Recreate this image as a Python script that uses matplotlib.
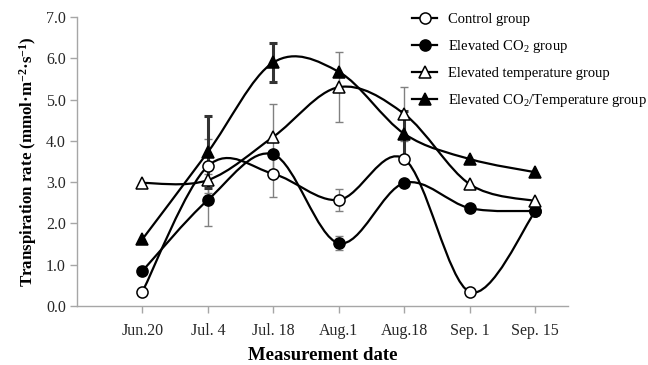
import matplotlib
matplotlib.use("Agg")
import matplotlib.pyplot as plt
from matplotlib.path import Path
from matplotlib.patches import PathPatch
from matplotlib.lines import Line2D
import numpy as np

dates = ["Jun.20", "Jul. 4", "Jul. 18", "Aug.1", "Aug.18", "Sep. 1", "Sep. 15"]

control = [0.35, 3.39, 3.20, 2.57, 3.56, 0.34, 2.29]
control_err = [0, 0.65, 0.56, 0.27, 0, 0, 0]

co2 = [0.85, 2.57, 3.67, 1.52, 2.98, 2.37, 2.30]
co2_err = [0, 0.63, 0, 0.17, 0, 0, 0]

temp = [2.98, 3.05, 4.10, 5.30, 4.65, 2.95, 2.54]
temp_err = [0, 0, 0.80, 0.85, 0.65, 0, 0]

co2_temp = [1.62, 3.73, 5.90, 5.67, 4.17, 3.56, 3.24]
co2_temp_err = [0, 0.87, 0.47, 0, 0.55, 0, 0]

plt.rcParams['font.family'] = ['Liberation Serif', 'DejaVu Serif']
plt.rcParams['mathtext.fontset'] = 'custom'
plt.rcParams['mathtext.rm'] = 'Liberation Serif'
plt.rcParams['mathtext.bf'] = 'Liberation Serif:bold'

fig = plt.figure(figsize=(6.48, 3.65), dpi=100)
ax = fig.add_axes([77 / 648, 59 / 365, 491 / 648, 289 / 365])


def smooth_path(xs, ys):
    # excel-style smoothed line: bezier segments with catmull-rom handles
    pts = np.column_stack([xs, ys]).astype(float)
    n = len(pts)
    verts = [pts[0]]
    codes = [Path.MOVETO]
    for i in range(n - 1):
        p0 = pts[max(i - 1, 0)]
        p1 = pts[i]
        p2 = pts[i + 1]
        p3 = pts[min(i + 2, n - 1)]
        verts += [p1 + (p2 - p0) / 6, p2 - (p3 - p1) / 6, p2]
        codes += [Path.CURVE4] * 3
    return Path(verts, codes)


x = np.arange(len(dates))
series = [
    ("Control group", control, control_err, 'o', 'white', 8, '#808080', 1.0),
    ("Elevated CO$_2$ group", co2, co2_err, 'o', 'black', 8, '#808080', 1.0),
    ("Elevated temperature group", temp, temp_err, '^', 'white', 8.5, '#808080', 1.0),
    ("Elevated CO$_2$/Temperature group", co2_temp, co2_temp_err, '^', 'black', 8.5, '#333333', 2.2),
]

handles = []
for label, vals, err, mk, fc, ms, ecol, elw in series:
    e = np.array(err)
    keep = e > 0
    ax.errorbar(x[keep], np.array(vals)[keep], yerr=e[keep], fmt='none',
                ecolor=ecol, elinewidth=elw, capsize=3, capthick=elw, zorder=1.5)
    ax.add_patch(PathPatch(smooth_path(x, vals), fill=False, edgecolor='black',
                           lw=1.6, zorder=2))
    ax.plot(x, vals, linestyle='none', marker=mk, markersize=ms,
            markerfacecolor=fc, markeredgecolor='black', markeredgewidth=1.1, zorder=3)
    handles.append(Line2D([], [], color='black', lw=1.6, marker=mk, markersize=ms,
                          markerfacecolor=fc, markeredgecolor='black',
                          markeredgewidth=1.1, label=label))

ax.set_xlim(-1.0, 6.5)
ax.set_ylim(0, 7)
ax.set_xticks(x)
ax.set_xticklabels(dates)
ax.set_yticks(np.arange(0, 7.1, 1.0))
ax.set_yticklabels([f"{v:.1f}" for v in np.arange(0, 7.1, 1.0)])

for s in ['top', 'right']:
    ax.spines[s].set_visible(False)
for s in ['left', 'bottom']:
    ax.spines[s].set_color('#A6A6A6')
    ax.spines[s].set_linewidth(1.0)
ax.tick_params(axis='both', direction='out', length=5, width=1.0, color='#A6A6A6',
               labelsize=11.5, labelcolor='#262626')
ax.tick_params(axis='x', pad=7)
ax.tick_params(axis='y', pad=3)

ax.set_xlabel("Measurement date", fontsize=13.5, fontweight='bold', labelpad=6)
ax.set_ylabel(r"Transpiration rate (mmol·m$\mathbf{^{-2}}$·s$\mathbf{^{-1}}$)",
              fontsize=12.2, fontweight='bold', labelpad=5)

fig.legend(handles=handles, loc='upper left', bbox_to_anchor=(409 / 648, 1 - 10 / 365),
           frameon=False, fontsize=10.5, handlelength=1.75, handletextpad=0.7,
           labelspacing=0.82, borderaxespad=0, borderpad=0.2)

fig.savefig("out.png", dpi=100)
